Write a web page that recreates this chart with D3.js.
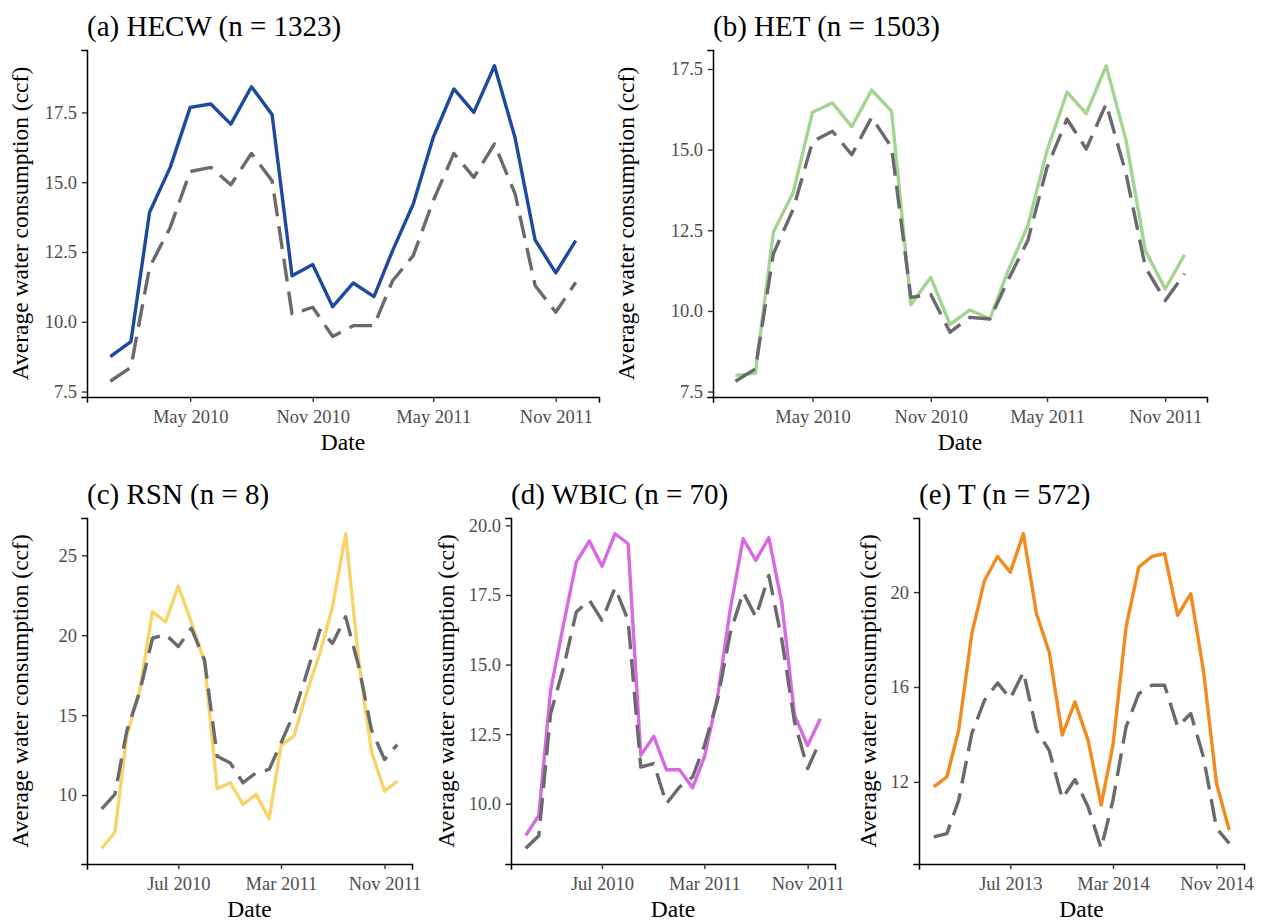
<!DOCTYPE html>
<html><head><meta charset="utf-8">
<script src="https://cdn.jsdelivr.net/npm/d3@7"></script>
<style>
body{margin:0;background:#fff}
svg{display:block}
text{font-family:"Liberation Serif","Times New Roman",serif}
</style>
</head><body>
<svg id="chart" width="1267" height="924"></svg>
<script>
// ---------- data ----------
const months2010to2011 = ["2010-01","2010-02","2010-03","2010-04","2010-05","2010-06","2010-07","2010-08","2010-09","2010-10","2010-11","2010-12",
  "2011-01","2011-02","2011-03","2011-04","2011-05","2011-06","2011-07","2011-08","2011-09","2011-10","2011-11","2011-12"];
const months2013to2014 = ["2013-01","2013-02","2013-03","2013-04","2013-05","2013-06","2013-07","2013-08","2013-09","2013-10","2013-11","2013-12",
  "2014-01","2014-02","2014-03","2014-04","2014-05","2014-06","2014-07","2014-08","2014-09","2014-10","2014-11","2014-12"];

const hecwObserved = [8.75,9.29,13.92,15.53,17.68,17.80,17.08,18.42,17.42,11.65,12.05,10.54,11.39,10.90,12.55,14.22,16.60,18.34,17.50,19.17,16.58,12.93,11.75,12.91];
const hecwBaseline = [7.87,8.37,11.95,13.38,15.38,15.53,14.91,16.03,15.05,10.28,10.52,9.47,9.86,9.86,11.47,12.37,14.34,16.03,15.17,16.37,14.58,11.30,10.34,11.41];

const hetObserved = [8.00,8.07,12.44,13.68,16.16,16.45,15.71,16.85,16.19,10.19,11.04,9.58,10.03,9.75,11.23,12.64,14.97,16.78,16.12,17.60,15.28,11.87,10.68,11.74];
const hetBaseline = [7.82,8.20,11.77,13.16,15.25,15.57,14.84,16.00,15.07,10.42,10.51,9.34,9.80,9.75,10.94,12.18,14.45,15.95,15.02,16.42,14.25,11.35,10.32,11.15];

const rsnObserved = [6.67,7.69,13.67,16.58,21.47,20.84,23.07,20.80,18.35,10.39,10.77,9.41,10.04,8.52,13.09,13.72,16.42,18.87,21.78,26.35,18.35,12.74,10.24,10.87];
const rsnBaseline = [9.14,10.04,14.00,16.48,19.81,20.05,19.29,20.43,18.45,12.43,12.01,10.77,11.39,11.60,13.26,15.13,17.62,20.32,19.49,21.15,18.04,14.09,12.22,13.15];

const wbicObserved = [8.86,9.58,14.07,16.47,18.68,19.44,18.53,19.70,19.34,11.74,12.42,11.22,11.22,10.57,11.68,13.83,16.95,19.52,18.74,19.56,17.19,13.17,12.09,13.05];
const wbicBaseline = [8.40,8.85,13.23,14.91,16.89,17.31,16.59,17.76,16.59,11.32,11.44,10.00,10.60,10.96,12.09,13.71,16.11,17.60,16.71,18.20,15.87,12.93,11.26,12.27];

const tObserved = [11.79,12.21,14.18,18.25,20.49,21.50,20.84,22.46,19.09,17.47,13.97,15.37,13.76,11.02,13.55,18.53,21.05,21.50,21.62,19.02,19.93,16.70,11.93,9.97];
const tBaseline = [9.68,9.82,11.23,14.04,15.44,16.17,15.51,16.63,14.18,13.33,11.30,12.10,10.95,9.20,11.23,14.32,15.72,16.07,16.07,14.32,14.88,13.05,10.04,9.41];

const xTicksAB = ["2010-05","2010-11","2011-05","2011-11"];
const xTicksCD = ["2010-07","2011-03","2011-11"];
const xTicksE  = ["2013-07","2014-03","2014-11"];

const yTicksHECW = [7.5,10,12.5,15,17.5];
const yTicksHET  = [7.5,10,12.5,15,17.5];
const yTicksRSN  = [10,15,20,25];
const yTicksWBIC = [10,12.5,15,17.5,20];
const yTicksT    = [12,16,20];

const titles = ["(a) HECW (n = 1323)","(b) HET (n = 1503)","(c) RSN (n = 8)","(d) WBIC (n = 70)","(e) T (n = 572)"];
const colors = ["#1d4a9f","#a3d491","#f8d468","#d76ae0","#f38a1e"];
const baselineColor = "#69696e";
const xLabel = "Date";
const yLabel = "Average water consumption (ccf)";

// ---------- layout ----------
const layout = [
  {left:87,  right:599,  top:50,  bottom:397, ylabX:28},
  {left:713, right:1207, top:50,  bottom:397, ylabX:634},
  {left:87,  right:412,  top:518, bottom:864, ylabX:28},
  {left:511, right:835,  top:518, bottom:864, ylabX:454},
  {left:919, right:1244, top:518, bottom:864, ylabX:876}
];

const panels = [
  {months:months2010to2011, obs:hecwObserved, base:hecwBaseline, xt:xTicksAB, yt:yTicksHECW, fmt:".1f"},
  {months:months2010to2011, obs:hetObserved,  base:hetBaseline,  xt:xTicksAB, yt:yTicksHET,  fmt:".1f"},
  {months:months2010to2011, obs:rsnObserved,  base:rsnBaseline,  xt:xTicksCD, yt:yTicksRSN,  fmt:"d"},
  {months:months2010to2011, obs:wbicObserved, base:wbicBaseline, xt:xTicksCD, yt:yTicksWBIC, fmt:".1f"},
  {months:months2013to2014, obs:tObserved,    base:tBaseline,    xt:xTicksE,  yt:yTicksT,    fmt:"d"}
];

const parse = d3.utcParse("%Y-%m");
const svg = d3.select("#chart");

panels.forEach((p, i) => {
  const L = layout[i];
  const dates = p.months.map(parse);
  const xExt = d3.extent(dates).map(d => +d);
  const xPad = (xExt[1] - xExt[0]) * 0.05;
  const x = d3.scaleUtc().domain([new Date(xExt[0] - xPad), new Date(xExt[1] + xPad)]).range([L.left, L.right]);
  const yExt = d3.extent(p.obs.concat(p.base));
  const yPad = (yExt[1] - yExt[0]) * 0.05;
  const y = d3.scaleLinear().domain([yExt[0] - yPad, yExt[1] + yPad]).range([L.bottom, L.top]);

  const g = svg.append("g");

  const line = d3.line().x((d, j) => x(dates[j])).y(d => y(d));

  g.append("path").datum(p.obs)
    .attr("d", line).attr("fill", "none")
    .attr("stroke", colors[i]).attr("stroke-width", 3.4)
    .attr("stroke-linejoin", "round");
  g.append("path").datum(p.base)
    .attr("d", line).attr("fill", "none")
    .attr("stroke", baselineColor).attr("stroke-width", 3.4)
    .attr("stroke-dasharray", "23,10")
    .attr("stroke-linejoin", "round");

  // x axis
  const xa = g.append("g").attr("transform", `translate(0,${L.bottom})`)
    .call(d3.axisBottom(x).tickValues(p.xt.map(parse)).tickFormat(d3.utcFormat("%b %Y")).tickSizeOuter(0).tickSize(5).tickPadding(8));
  // y axis
  const ya = g.append("g").attr("transform", `translate(${L.left},0)`)
    .call(d3.axisLeft(y).tickValues(p.yt).tickFormat(d3.format(p.fmt)).tickSizeOuter(0).tickSize(5).tickPadding(5));

  [xa, ya].forEach(a => {
    a.select(".domain").attr("stroke", "#000").attr("stroke-width", 1.5).attr("stroke-linecap", "square");
    a.selectAll(".tick line").attr("stroke", "#333").attr("stroke-width", 1.4);
    a.selectAll(".tick text").attr("fill", "#4d4d4d").style("font-size", "18.5px")
      .style("font-family", '"Liberation Serif","Times New Roman",serif');
  });
  xa.selectAll(".tick text").attr("dy", null).attr("y", 26);

  // axis titles
  g.append("text").attr("x", (L.left + L.right) / 2).attr("y", L.bottom + 53)
    .attr("text-anchor", "middle").style("font-size", "23.5px").attr("fill", "#000").text(xLabel);
  g.append("text")
    .attr("transform", `translate(${L.ylabX},${(L.top + L.bottom) / 2}) rotate(-90)`)
    .attr("text-anchor", "middle").style("font-size", "23.5px").attr("fill", "#000").text(yLabel);

  // title
  g.append("text").attr("x", L.left).attr("y", L.top - 14)
    .style("font-size", "29px").attr("fill", "#000").text(titles[i]);
});
</script>
</body></html>
